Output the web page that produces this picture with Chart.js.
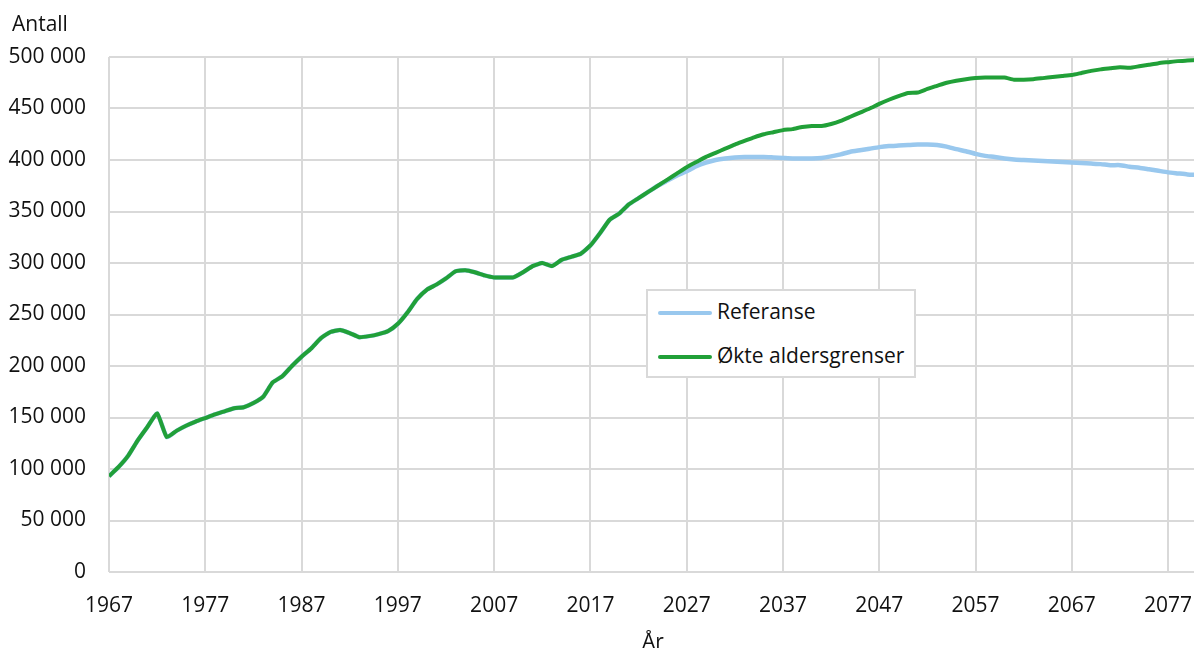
<!DOCTYPE html>
<html lang="no">
<head>
<meta charset="utf-8">
<script src="https://cdn.jsdelivr.net/npm/chart.js@4"></script>
<style>
  body { margin: 0; background: #fff; overflow: hidden; font-family: 'Open Sans', sans-serif; }
  #chart { position: absolute; left: 0; top: 0; }
  #antall { position: absolute; left: 12px; top: 9px; font-size: 21px; color: #111; }
  #legend { position: absolute; left: 646px; top: 289px; width: 266px; height: 85px;
            border: 2px solid #d9d9d9; background: #fff; font-size: 21px; color: #111; }
  .item { position: absolute; left: 10px; height: 24px; line-height: 24px; white-space: nowrap; }
  .item span.swatch { display: inline-block; width: 54px; height: 4px; border-radius: 2px;
                      vertical-align: middle; margin-right: 5px; }
</style>
</head>
<body>
<canvas id="chart" width="1200" height="648"></canvas>
<div id="antall">Antall</div>
<div id="legend"></div>
<script>
// år 1967 - 2080
let years = [];
for (let y = 1967; y <= 2080; y++) years.push(y);

// felles historikk 1967 - 2024
let felles = [
  93000, 102000, 113000, 128000, 141000, 154000, 131000, 137000, 142000, 146000,
  149500, 153000, 156000, 159000, 160000, 164000, 170000, 184000, 190000, 200000,
  209000, 217000, 227000, 233000, 235000, 232000, 228000, 229000, 231000, 234000,
  241000, 252000, 265000, 274000, 279000, 285000, 292000, 293000, 291000, 288000,
  286000, 286000, 286000, 291000, 297000, 300000, 297000, 303000, 306000, 309000,
  317000, 329000, 342000, 348000, 357000, 363000, 369000, 375000
];

// framskriving 2025 - 2080
let referanseFrem = [
  380000, 385000, 389000, 394000, 397500, 400000, 401500, 402500, 403000, 403000,
  403000, 402500, 402000, 401500, 401500, 401500, 402000, 403500, 405500, 408000,
  409500, 411000, 412500, 413500, 414000, 414500, 415000, 415000, 414500, 413000,
  410500, 408500, 406000, 404000, 403000, 401500, 400500, 400000, 399500, 399000,
  398500, 398000, 397500, 397000, 396500, 396000, 395000, 395000, 393500, 392500,
  391000, 389500, 388000, 387000, 386000, 385500
];
let okteFrem = [
  381000, 387000, 393000, 398000, 403000, 407000, 411000, 415000, 418500, 422000,
  425000, 427000, 429000, 430000, 432000, 433000, 433000, 435000, 438000, 442000,
  446000, 450000, 454500, 458500, 462000, 465000, 465500, 469000, 472000, 475000,
  477000, 478500, 479500, 480000, 480000, 480000, 478000, 478000, 478500, 479500,
  480500, 481500, 482500, 484500, 486500, 488000, 489000, 490000, 489500, 491000,
  492500, 494000, 495000, 496000, 496500, 497000
];

let referanse = felles.concat(referanseFrem);
let okte = felles.concat(okteFrem);

let yTicks = [0, 50000, 100000, 150000, 200000, 250000, 300000, 350000, 400000, 450000, 500000];
let xTicks = [1967, 1977, 1987, 1997, 2007, 2017, 2027, 2037, 2047, 2057, 2067, 2077];

function toPoints(values) {
  return values.map((v, i) => ({ x: years[i], y: v }));
}

function formatNumber(v) {
  return v.toString().replace(/\B(?=(\d{3})+(?!\d))/g, ' ');
}

Chart.defaults.font.family = "'Open Sans', sans-serif";
Chart.defaults.font.size = 21;
Chart.defaults.color = '#111';

const ctx = document.getElementById('chart').getContext('2d');
const chart = new Chart(ctx, {
  type: 'line',
  data: {
    datasets: [{
      label: 'Referanse',
      data: toPoints(referanse),
      borderColor: '#99c8ee',
      borderWidth: 4.5,
      pointRadius: 0,
      tension: 0.15,
      order: 1
    }, {
      label: 'Økte aldersgrenser',
      data: toPoints(okte),
      borderColor: '#21a038',
      borderWidth: 4,
      pointRadius: 0,
      tension: 0.15,
      order: 0
    }]
  },
  options: {
    responsive: false,
    animation: false,
    layout: { padding: { top: 57, left: 0, right: 3, bottom: 0 } },
    plugins: {
      legend: { display: false },
      tooltip: { enabled: false }
    },
    scales: {
      x: {
        type: 'linear',
        min: 1967,
        max: 2080,
        afterBuildTicks: (scale) => {
          scale.ticks = xTicks.map(v => ({ value: v }));
        },
        afterFit: (scale) => {
          scale.height = 76;
          scale.paddingLeft = 0;
          scale.paddingRight = 0;
        },
        grid: { color: '#d9d9d9', lineWidth: 2, drawTicks: false },
        border: { display: false },
        ticks: {
          padding: 21,
          maxRotation: 0,
          autoSkip: false,
          callback: (v) => String(v)
        },
        title: {
          display: true,
          text: 'År',
          padding: { top: 0, bottom: -8 }
        }
      },
      y: {
        min: 0,
        max: 500000,
        afterBuildTicks: (scale) => {
          scale.ticks = yTicks.map(v => ({ value: v }));
        },
        afterFit: (scale) => { scale.width = 109; },
        grid: { color: '#d9d9d9', lineWidth: 2, drawTicks: false },
        border: { display: false },
        ticks: {
          padding: 23,
          callback: (v) => formatNumber(v)
        }
      }
    }
  }
});

// egen forklaring
let legendBox = document.getElementById('legend');
let tops = [8, 52];
chart.data.datasets.forEach((ds, i) => {
  let item = document.createElement('div');
  item.className = 'item';
  item.style.top = tops[i] + 'px';
  item.innerHTML = "<span class='swatch' style='background:" + ds.borderColor + "'></span>" + ds.label;
  legendBox.appendChild(item);
});
</script>
</body>
</html>
